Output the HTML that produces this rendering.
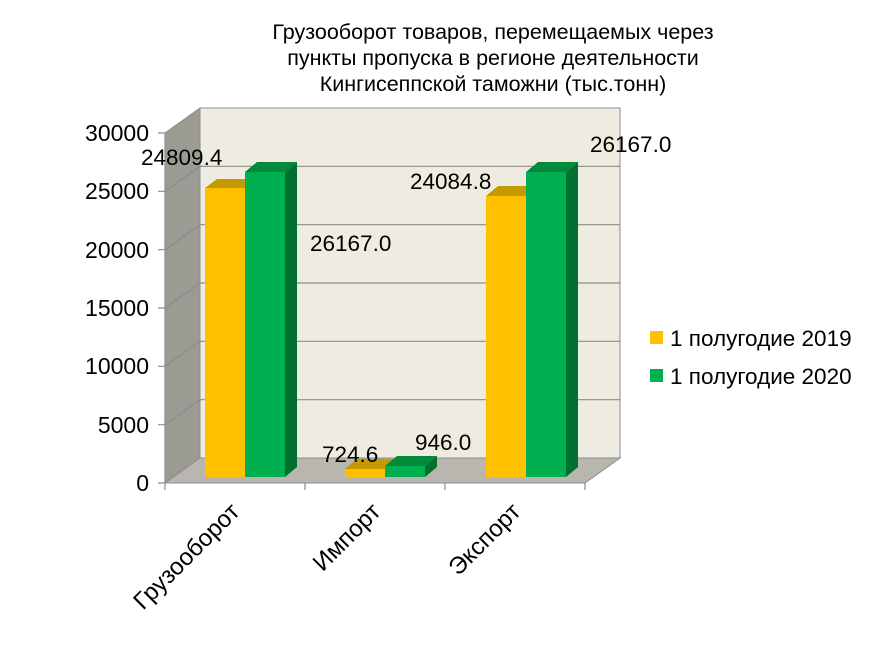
<!DOCTYPE html>
<html><head><meta charset="utf-8"><style>
body{margin:0;background:#fff}
svg text{font-family:"Liberation Sans",sans-serif;fill:#000}
</style></head><body>
<svg width="886" height="644" viewBox="0 0 886 644">
<text x="493" y="39" font-size="21.5" text-anchor="middle">Грузооборот товаров, перемещаемых через</text>
<text x="493" y="65" font-size="21.5" text-anchor="middle">пункты пропуска в регионе деятельности</text>
<text x="493" y="91" font-size="21.5" text-anchor="middle">Кингисеппской таможни (тыс.тонн)</text>
<polygon points="200,108 620,108 620,458 200,458" fill="#eeece1" stroke="#8c8c8c" stroke-width="1"/>
<polygon points="165,133 200,108 200,458 165,483" fill="#9b9a93" stroke="#8c8c8c"/>
<polygon points="165,483 200,458 620,458 585,483" fill="#b8b6ae" stroke="#8c8c8c"/>
<g stroke="#8c8c8c" stroke-width="1.2" fill="none">
<path d="M200,166.3H620M200,224.7H620M200,283H620M200,341.3H620M200,399.7H620"/>
<path d="M165,191.3L200,166.3M165,249.7L200,224.7M165,308L200,283M165,366.3L200,341.3M165,424.7L200,399.7"/>
<path d="M165,133V483M158,133H165M158,191.3H165M158,249.7H165M158,308H165M158,366.3H165M158,424.7H165M158,483H165"/>
<path d="M165,483V490M305,483V490M445,483V490M585,483V490"/>
</g>
<g font-size="23" text-anchor="end">
<text x="149" y="141">30000</text><text x="149" y="199">25000</text><text x="149" y="258">20000</text>
<text x="149" y="316">15000</text><text x="149" y="374">10000</text><text x="149" y="433">5000</text><text x="149" y="491">0</text>
</g>
<g>
<polygon points="205,188 217,179 257,179 245,188" fill="#c49a00"/>
<rect x="205" y="188" width="40" height="289" fill="#ffc000"/>
<polygon points="245,172 257,162 297,162 285,172" fill="#008a3a"/>
<rect x="245" y="172" width="40" height="305" fill="#00b050"/>
<polygon points="285,172 297,162 297,467 285,477" fill="#007030"/>
<polygon points="345,469 357,459 397,459 385,469" fill="#c49a00"/>
<rect x="345" y="469" width="40" height="8" fill="#ffc000"/>
<polygon points="385,466 397,456 437,456 425,466" fill="#008a3a"/>
<rect x="385" y="466" width="40" height="11" fill="#00b050"/>
<polygon points="425,466 437,456 437,467 425,477" fill="#007030"/>
<polygon points="486,196 498,186 538,186 526,196" fill="#c49a00"/>
<rect x="486" y="196" width="40" height="281" fill="#ffc000"/>
<polygon points="526,172 538,162 578,162 566,172" fill="#008a3a"/>
<rect x="526" y="172" width="40" height="305" fill="#00b050"/>
<polygon points="566,172 578,162 578,467 566,477" fill="#007030"/>
</g>
<g font-size="22.5">
<text x="141" y="165">24809.4</text>
<text x="310" y="251">26167.0</text>
<text x="322" y="462">724.6</text>
<text x="415" y="450">946.0</text>
<text x="410" y="189">24084.8</text>
<text x="590" y="152">26167.0</text>
</g>
<g font-size="24" text-anchor="end">
<text transform="translate(241,513) rotate(-45)">Грузооборот</text>
<text transform="translate(382,513) rotate(-45)">Импорт</text>
<text transform="translate(522,513) rotate(-45)">Экспорт</text>
</g>
<rect x="650" y="331" width="13" height="13" fill="#ffc000"/>
<text x="670" y="346" font-size="22.5">1 полугодие 2019</text>
<rect x="650" y="369" width="13" height="13" fill="#00b050"/>
<text x="670" y="384" font-size="22.5">1 полугодие 2020</text>
</svg>
</body></html>
